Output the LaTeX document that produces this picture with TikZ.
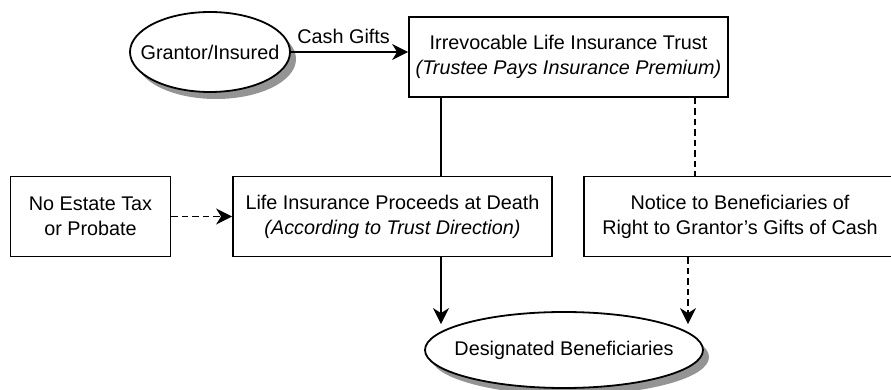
\documentclass[tikz,border=0pt]{standalone}
\usepackage{fontspec}
\setmainfont{Liberation Sans}
\usetikzlibrary{shapes.geometric,arrows.meta,shadows}
\begin{document}
\begin{tikzpicture}[x=1pt,y=-1pt,
  txt/.style={font=\fontsize{19.8}{25}\selectfont},
  box/.style={txt,draw,line width=1.8pt,inner sep=0pt,align=center,fill=white},
  ell/.style={txt,draw,ellipse,line width=1.8pt,fill=white,inner xsep=-14pt,inner ysep=0pt,
    drop shadow={shadow xshift=6pt,shadow yshift=-7pt,fill=black!42,opacity=1}},
  conn/.style={line width=1.8pt},
  arr/.style={conn,-{Stealth[length=16pt,width=16pt,inset=5pt]}},
  dsh/.style={dash pattern=on 6.5pt off 4pt}]
\clip (0,0) rectangle (891,390);
\fill[white] (0,0) rectangle (891,390);
% nodes
\node[ell,minimum width=160pt,minimum height=80pt] (grantor) at (210,52) {Grantor/Insured};
\node[box,minimum width=319pt,minimum height=80pt] (trust) at (568.5,57)
  {Irrevocable Life Insurance Trust\\\textit{(Trustee Pays Insurance Premium)}};
\node[box,minimum width=160pt,minimum height=80pt] (noestate) at (90.5,216.5)
  {No Estate Tax\\or Probate};
\node[box,minimum width=319pt,minimum height=80pt] (life) at (392.5,216.5)
  {Life Insurance Proceeds at Death\\\textit{(According to Trust Direction)}};
\node[box,minimum width=312pt,minimum height=80pt] (notice) at (740,216.5)
  {Notice to Beneficiaries of\\Right to Grantor's Gifts of Cash};
\node[ell,minimum width=278pt,minimum height=76pt] (benef) at (564,350) {Designated Beneficiaries};
% x positions of vertical connectors
\coordinate (xa) at (441,0);
\coordinate (xb) at (695,0);
\coordinate (xc) at (688,0);
% connectors
\draw[arr] (grantor.east) -- node[txt,above=7pt,inner sep=0pt,pos=0.45] (cash) {Cash Gifts} (grantor.east -| trust.west);
\draw[conn] (trust.south -| xa) -- (life.north -| xa);
\draw[conn,dsh] (trust.south -| xb) -- (notice.north -| xb);
\draw[arr,dsh] (noestate.east) -- (life.west);
\draw[arr,shorten >=-13pt] (life.south -| xa) -- (xa |- benef.north);
\draw[arr,dsh,shorten >=-13pt] (notice.south -| xc) -- (xc |- benef.north);
\end{tikzpicture}
\end{document}
